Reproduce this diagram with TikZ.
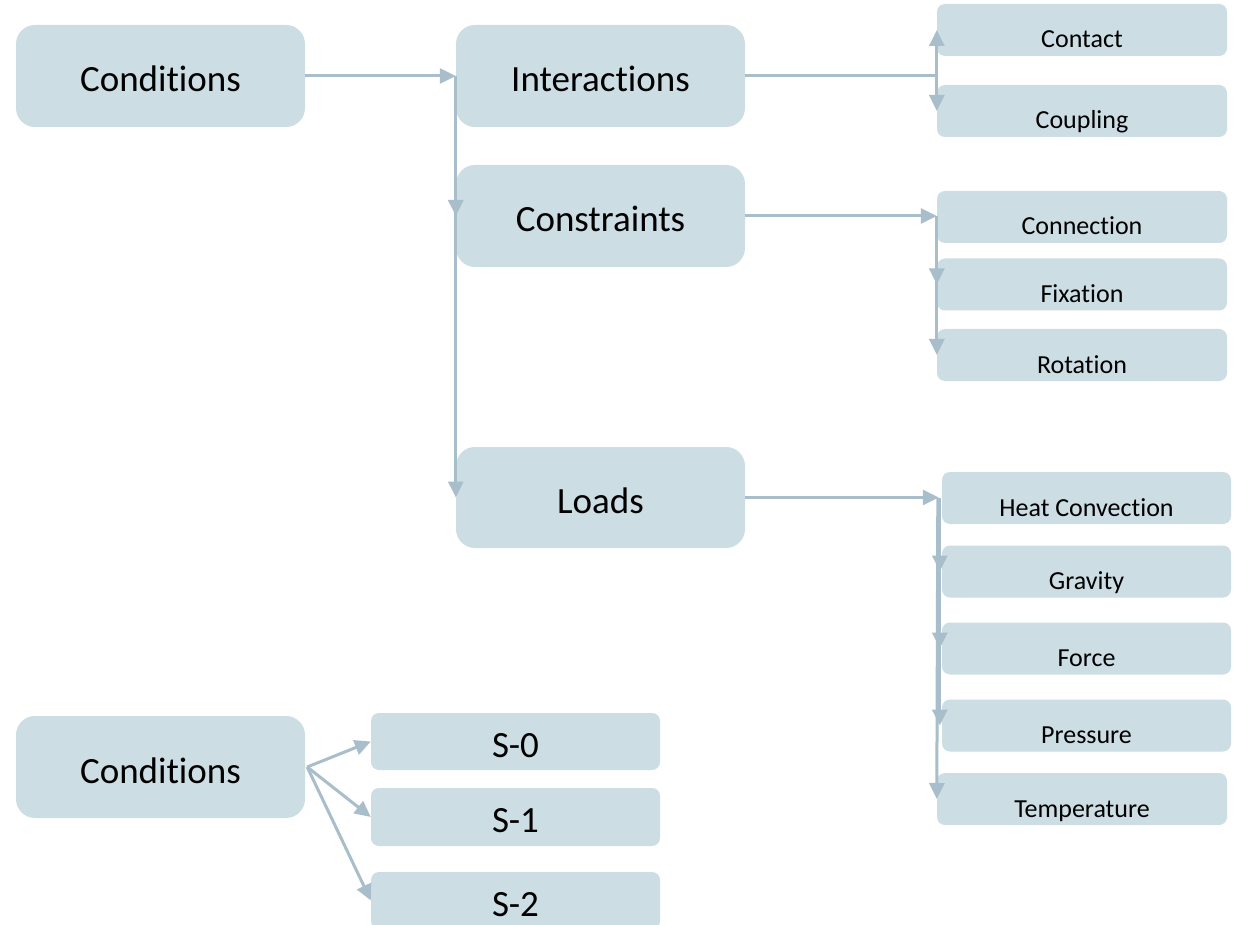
\documentclass[tikz,border=0pt]{standalone}
\usepackage{fontspec}
\setmainfont{Carlito}[RawFeature={-liga;-clig;-calt;-dlig}]
\usetikzlibrary{arrows.meta}
\definecolor{boxfill}{RGB}{204,221,228}
\definecolor{linecol}{RGB}{168,190,203}
\tikzset{
  bigbox/.style={rectangle, rounded corners=19pt, fill=boxfill, draw=none, inner sep=0pt, minimum width=289pt, minimum height=102pt},
  smallbox/.style={rectangle, rounded corners=8pt, fill=boxfill, draw=none, inner sep=0pt, minimum width=289pt, minimum height=52pt},
  sbox/.style={rectangle, rounded corners=8pt, fill=boxfill, draw=none, inner sep=0pt, minimum width=289pt, minimum height=57pt},
  bigtext/.style={anchor=base, inner sep=0pt, font=\fontsize{37pt}{40pt}\selectfont},
  smalltext/.style={anchor=base, inner sep=0pt, font=\fontsize{26pt}{28pt}\selectfont},
  conn/.style={draw=linecol, line width=3pt},
  arr/.style={draw=linecol, line width=3pt, -{Triangle[length=16pt,width=15pt]}},
}
\begin{document}
\begin{tikzpicture}[x=1pt,y=-1pt]
\useasboundingbox (0,0) rectangle (1237,925);
\clip (0,0) rectangle (1237,925);
\fill[white] (0,0) rectangle (1237,925);

% big boxes
\node[bigbox] (cond1) at (160.5,76) {};
\node[bigbox] (inter) at (600.5,76) {};
\node[bigbox] (constr) at (600.5,216) {};
\node[bigbox, minimum height=101pt] (loads) at (600.5,497.5) {};
\node[bigbox] (cond2) at (160.5,767) {};

% small boxes
\node[smallbox, minimum width=290pt] (contact) at (1082,30) {};
\node[smallbox, minimum width=290pt] (coupling) at (1082,111) {};
\node[smallbox, minimum width=290pt] (connection) at (1082,217) {};
\node[smallbox, minimum width=290pt] (fixation) at (1082,284.5) {};
\node[smallbox, minimum width=290pt] (rotation) at (1082,355) {};
\node[smallbox] (heat) at (1086.5,498) {};
\node[smallbox] (gravity) at (1086.5,571.5) {};
\node[smallbox] (force) at (1086.5,648.5) {};
\node[smallbox] (pressure) at (1086.5,725.5) {};
\node[smallbox, minimum width=290pt] (temperature) at (1082,799) {};

% S boxes
\node[sbox] (s0) at (515.5,741.5) {};
\node[sbox, minimum height=58pt] (s1) at (515.5,817) {};
\node[sbox] (s2) at (515.5,900.5) {};

% texts
\node[bigtext] (tcond1) at ([yshift=-16pt]cond1.center) {Conditions};
\node[bigtext] (tinter) at ([yshift=-16pt]inter.center) {Interactions};
\node[bigtext] (tconstr) at ([yshift=-16pt]constr.center) {Constraints};
\node[bigtext] (tloads) at ([yshift=-16pt]loads.center) {Loads};
\node[bigtext] (tcond2) at ([yshift=-16pt]cond2.center) {Conditions};
\node[bigtext] (ts0) at ([yshift=-15.5pt]s0.center) {S-0};
\node[bigtext] (ts1) at ([yshift=-15.5pt]s1.center) {S-1};
\node[bigtext] (ts2) at ([yshift=-15.5pt]s2.center) {S-2};

\node[smalltext] (tcontact) at ([yshift=-18pt]contact.center) {Contact};
\node[smalltext] (tcoupling) at ([yshift=-18pt]coupling.center) {Coupling};
\node[smalltext] (tconnection) at ([yshift=-18pt]connection.center) {Connection};
\node[smalltext] (tfixation) at ([yshift=-18pt]fixation.center) {Fixation};
\node[smalltext] (trotation) at ([yshift=-18pt]rotation.center) {Rotation};
\node[smalltext] (theat) at ([yshift=-18pt]heat.center) {Heat Convection};
\node[smalltext] (tgravity) at ([yshift=-18pt]gravity.center) {Gravity};
\node[smalltext] (tforce) at ([yshift=-18pt]force.center) {Force};
\node[smalltext] (tpressure) at ([yshift=-18pt]pressure.center) {Pressure};
\node[smalltext] (ttemperature) at ([yshift=-18pt]temperature.center) {Temperature};

% connectors: top level
\draw[arr] (cond1.east) -- (inter.west);
\draw[arr] (inter.west) -- (constr.west);
\draw[arr] (inter.west) -- (loads.west);

% interactions
\coordinate (j1) at (contact.west |- inter.east);
\draw[conn] (inter.east) -- (j1);
\draw[arr] (j1) -- (contact.west);
\draw[arr] (j1) -- (coupling.west);

% constraints
\coordinate (j2) at (connection.west |- constr.east);
\draw[arr] (constr.east) -- (j2);
\draw[arr] (j2) -- (fixation.west);
\draw[arr] (j2) -- (rotation.west);

% loads
\coordinate (j3) at ([xshift=-3pt]heat.west |- loads.east);
\draw[arr] (loads.east) -- (j3);
\draw[arr] ([xshift=-2pt]heat.west) -- ([xshift=-2pt]gravity.west);
\draw[arr] ([xshift=-2pt]heat.west) -- ([xshift=-2pt]force.west);
\draw[arr] ([xshift=-2pt]heat.west) -- ([xshift=-2pt]pressure.west);
\draw[arr] ([xshift=-4pt]heat.west) -- (temperature.west);

% bottom fan
\coordinate (j4) at ([xshift=2pt]cond2.east);
\draw[arr] (j4) -- (s0.west);
\draw[arr] (j4) -- (s1.west);
\draw[arr] (j4) -- (s2.west);
\end{tikzpicture}
\end{document}
